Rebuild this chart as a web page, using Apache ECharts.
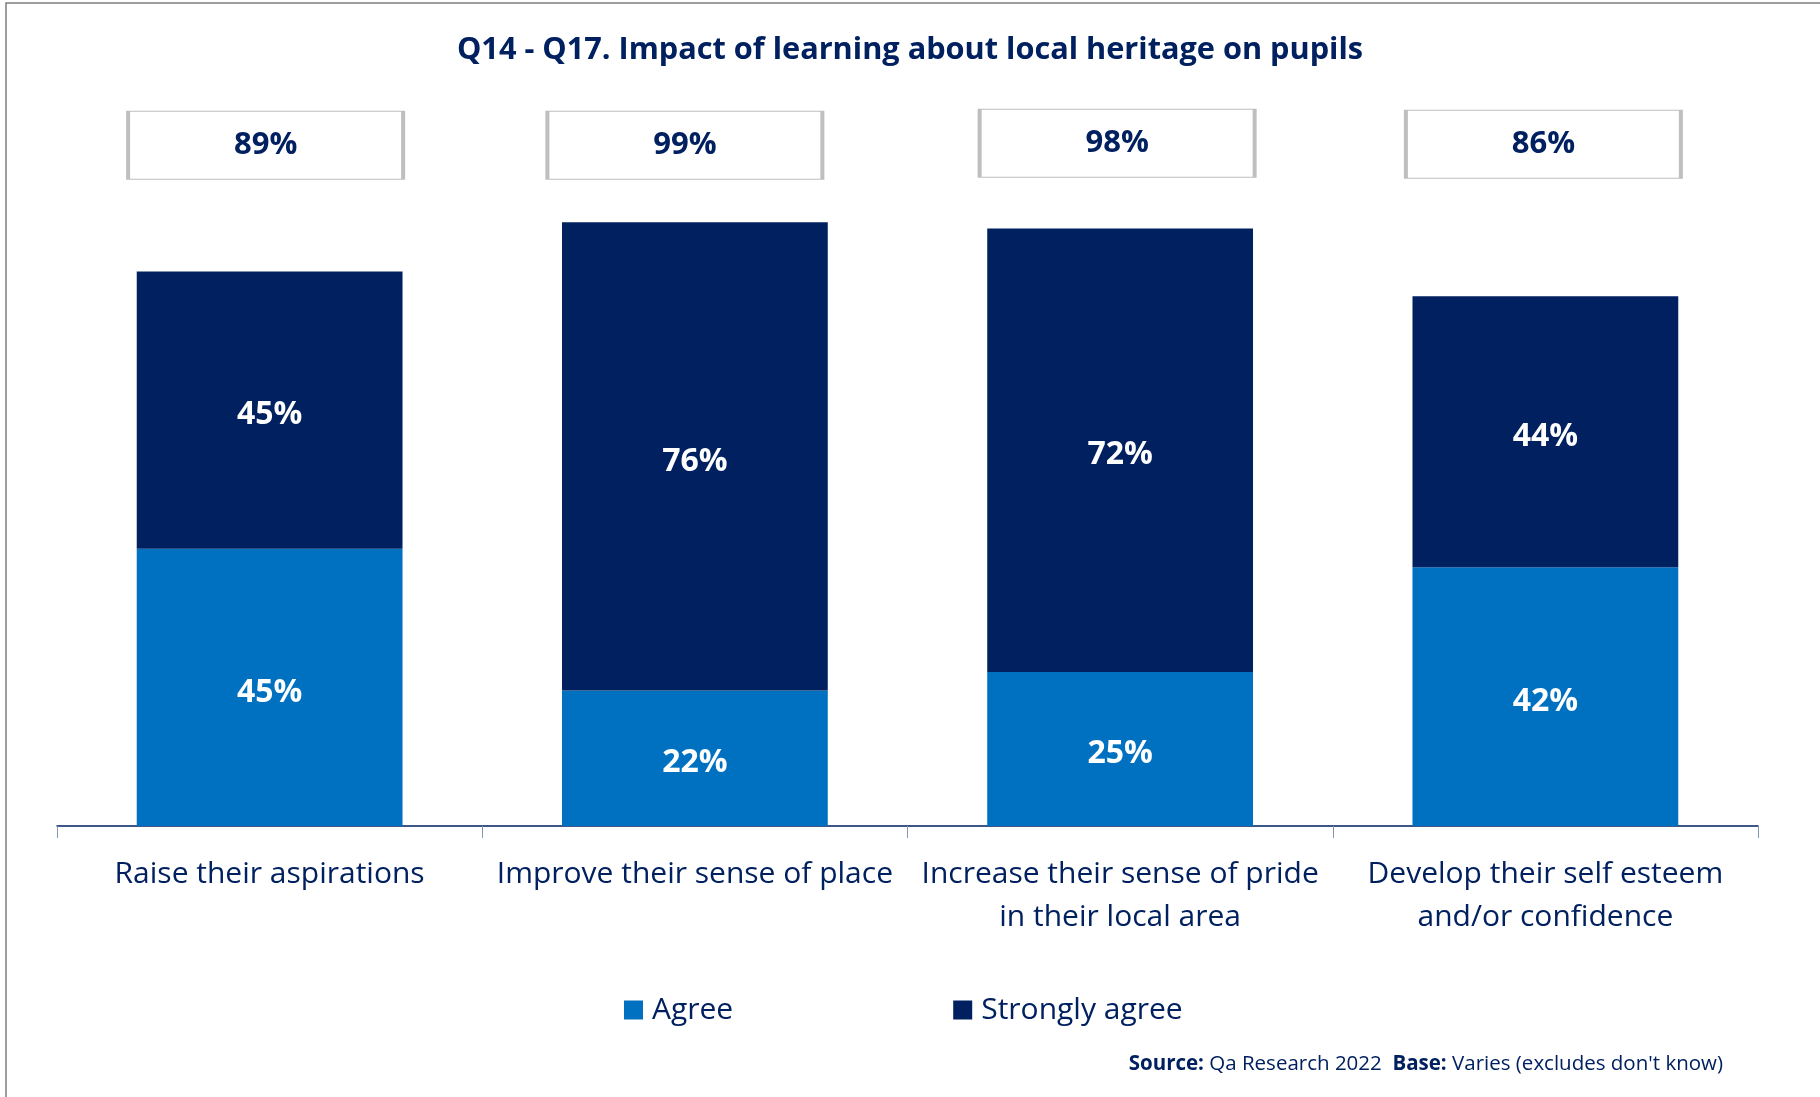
<!DOCTYPE html>
<html>
<head>
<meta charset="utf-8">
<script src="https://cdn.jsdelivr.net/npm/echarts@6/dist/echarts.min.js"></script>
<style>
  html, body { margin: 0; padding: 0; background: #ffffff; }
  #chart { width: 1820px; height: 1097px; }
</style>
</head>
<body>
<div id="chart"></div>
<script>
// Survey statements (x-axis categories)
const categories = [
  'Raise their aspirations',
  'Improve their sense of place',
  'Increase their sense of pride\nin their local area',
  'Develop their self esteem\nand/or confidence'
];
// Share of respondents, in percent
const agree = [45, 22, 25, 42];
const stronglyAgree = [45, 76, 72, 44];
// Net agreement shown in the boxes above each bar
const netAgree = [89, 99, 98, 86];

const NAVY = '#002060';
const BLUE = '#0070C0';
const FONT = 'Open Sans';
const NET_BOX_LEVEL = 110.5; // height on the value scale where the net boxes sit
const NET_BOX_SHIFT = [[-4, 0], [-10, 0], [-3, -2], [-2, -1]]; // small nudges of each box, px

const chart = echarts.init(document.getElementById('chart'), null, { renderer: 'canvas' });

chart.setOption({
  backgroundColor: '#ffffff',
  animation: false,
  textStyle: { fontFamily: FONT },
  graphic: [
    {
      type: 'rect',
      shape: { x: 6, y: 3, width: 1900, height: 1200 },
      style: { fill: 'none', stroke: '#7f7f7f', lineWidth: 1.5 },
      silent: true
    }
  ],
  title: [
    {
      text: 'Q14 - Q17. Impact of learning about local heritage on pupils',
      left: 'center',
      top: 30,
      textStyle: { fontFamily: FONT, fontSize: 30.7, fontWeight: 'bold', color: NAVY }
    },
    {
      text: '{b|Source:} Qa Research 2022  {b|Base:} Varies (excludes don\'t know)',
      right: 92,
      top: 1049,
      textStyle: {
        fontFamily: FONT, fontSize: 20.5, fontWeight: 'normal', color: NAVY,
        rich: { b: { fontFamily: FONT, fontSize: 20.5, fontWeight: 'bold', color: NAVY } }
      }
    }
  ],
  legend: {
    data: ['Agree', 'Strongly agree'],
    left: 619,
    top: 990,
    icon: 'rect',
    itemWidth: 19,
    itemHeight: 19,
    itemGap: 220,
    textStyle: { fontFamily: FONT, fontSize: 30, color: NAVY, padding: [0, 0, 0, 4] }
  },
  grid: { left: 57, right: 62, top: 210, bottom: 271, containLabel: false },
  xAxis: {
    type: 'category',
    data: categories,
    axisLine: { show: true, lineStyle: { color: NAVY, width: 1.5 } },
    axisTick: { show: true, length: 12, lineStyle: { color: '#8497B0', width: 1 } },
    axisLabel: {
      fontFamily: FONT, fontSize: 30, color: NAVY, lineHeight: 43, margin: 27, interval: 0
    }
  },
  yAxis: {
    type: 'value',
    min: 0,
    max: 100,
    show: false,
    splitLine: { show: false }
  },
  series: [
    {
      name: 'Agree',
      type: 'bar',
      stack: 'total',
      data: agree,
      barWidth: '62.5%',
      itemStyle: { color: BLUE },
      label: {
        show: true, position: 'inside', formatter: '{c}%', offset: [0, 5],
        fontFamily: FONT, fontSize: 32, fontWeight: 'bold', color: '#ffffff'
      }
    },
    {
      name: 'Strongly agree',
      type: 'bar',
      stack: 'total',
      data: stronglyAgree,
      barWidth: '62.5%',
      itemStyle: { color: NAVY },
      label: {
        show: true, position: 'inside', formatter: '{c}%', offset: [0, 5],
        fontFamily: FONT, fontSize: 32, fontWeight: 'bold', color: '#ffffff'
      }
    },
    {
      name: 'Net agree',
      type: 'scatter',
      clip: false,
      silent: true,
      symbol: 'rect',
      symbolSize: [275, 68],
      data: netAgree.map((v, i) => ({
        value: [i, NET_BOX_LEVEL],
        symbolOffset: NET_BOX_SHIFT[i]
      })),
      itemStyle: { color: '#ffffff', borderColor: '#BFBFBF', borderWidth: 2, opacity: 1 },
      label: {
        show: true, position: 'inside',
        formatter: (p) => netAgree[p.dataIndex] + '%',
        fontFamily: FONT, fontSize: 31, fontWeight: 'bold', color: NAVY
      },
      z: 5
    }
  ]
});
</script>
</body>
</html>
